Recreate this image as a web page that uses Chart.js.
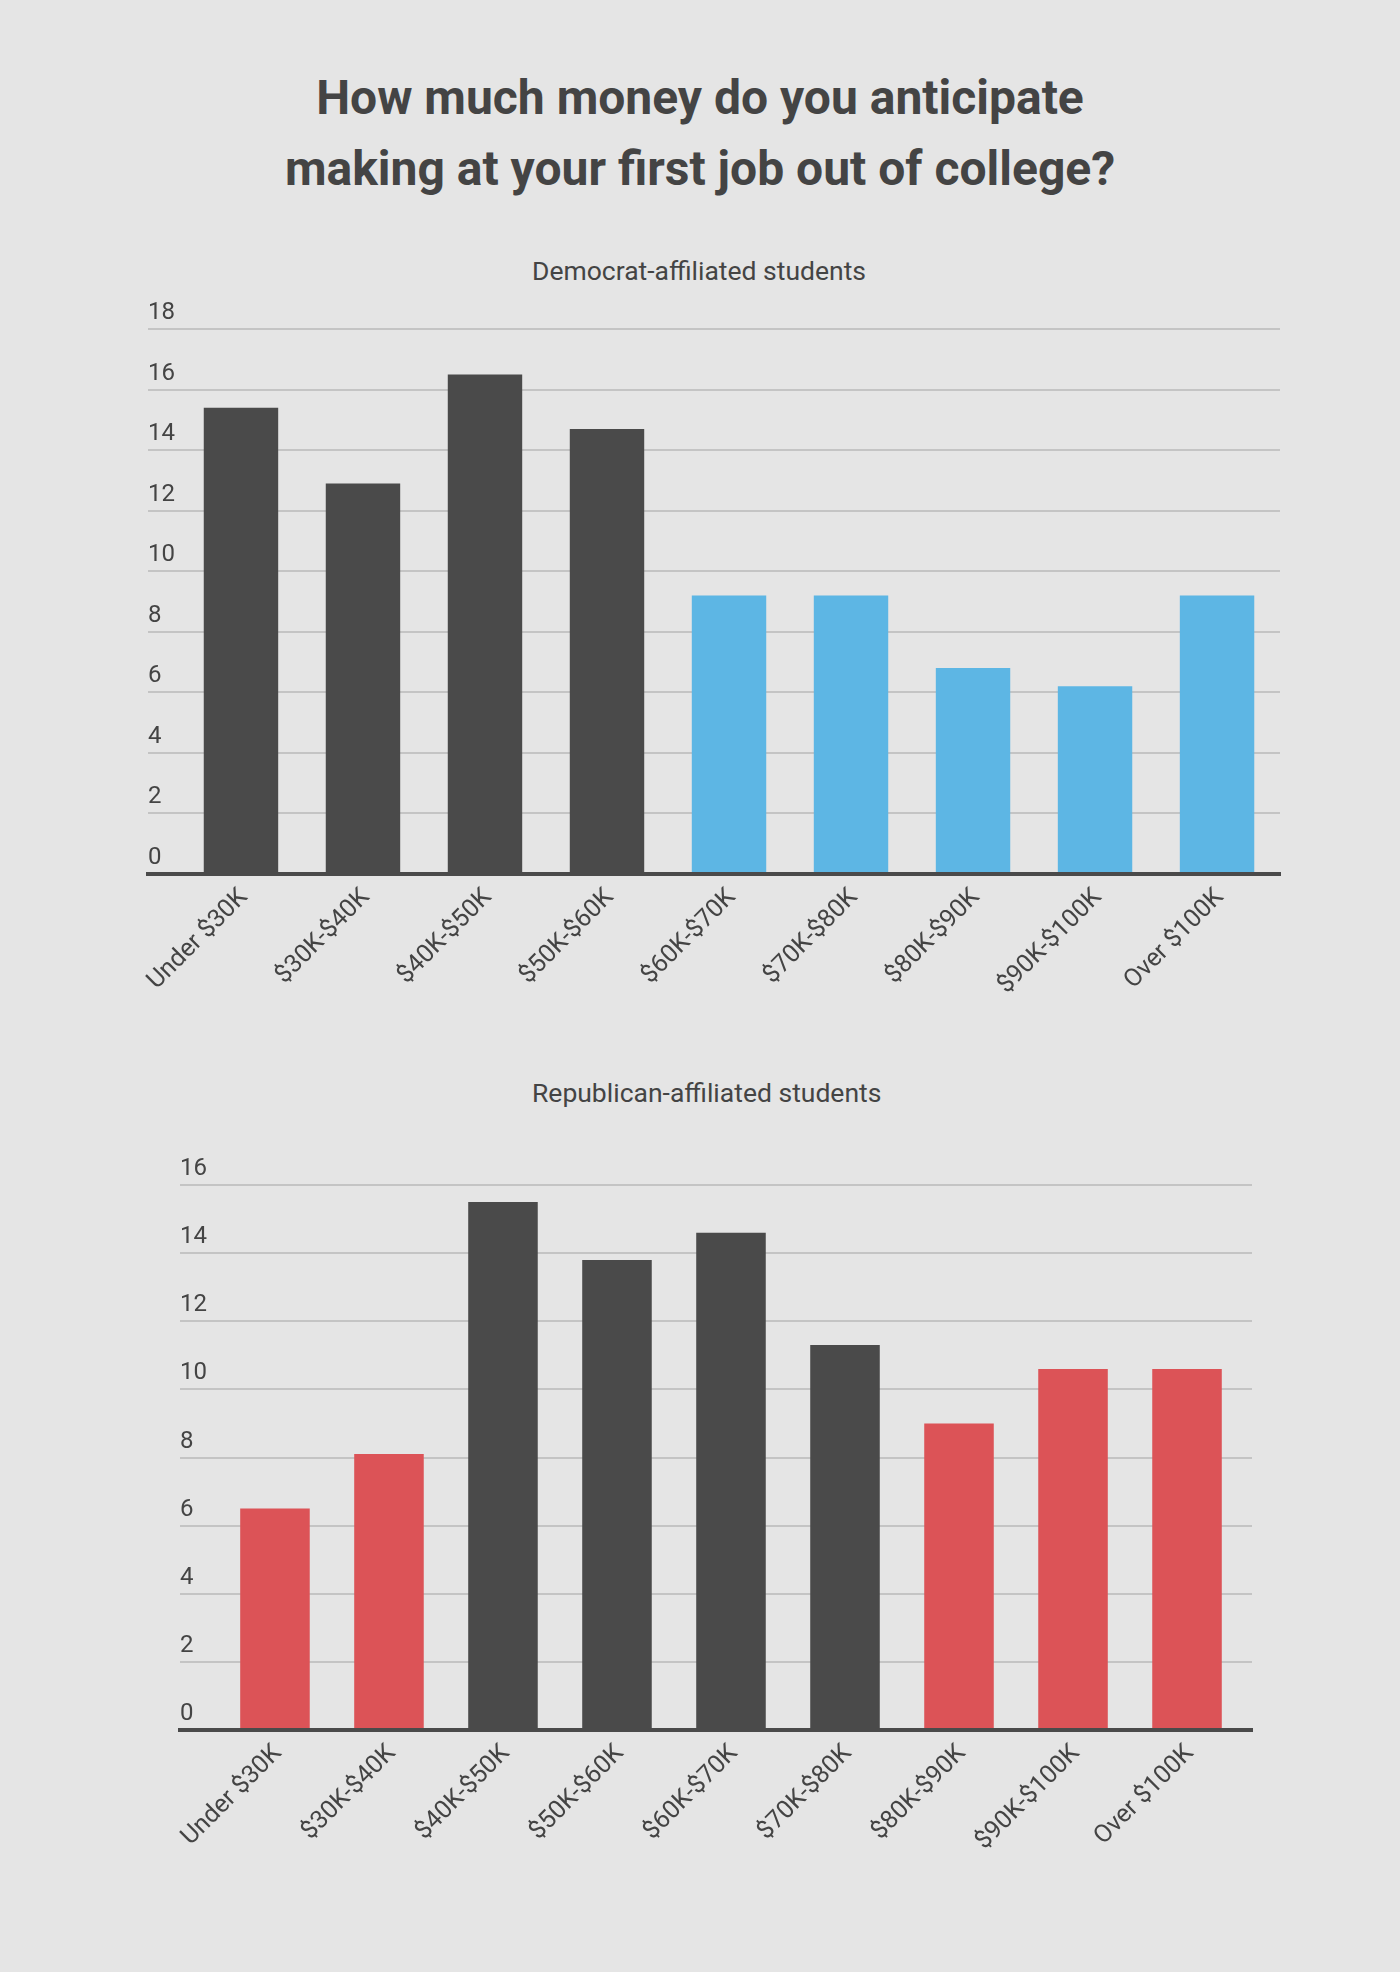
<!DOCTYPE html>
<html>
<head>
<meta charset="utf-8">
<script src="https://cdn.jsdelivr.net/npm/chart.js@4.4.0/dist/chart.umd.min.js"></script>
<style>
  body { margin: 0; background: #e5e5e5; width: 1400px; height: 1972px; position: relative; overflow: hidden; font-family: Roboto, sans-serif; color: #444; }
  .title { position: absolute; top: 62px; left: 0; width: 1400px; text-align: center; font-weight: 700; font-size: 48px; line-height: 71px; }
  .sub { position: absolute; left: 532px; font-size: 26.5px; line-height: 26px; white-space: nowrap; }
  .box { position: absolute; left: 0; width: 1400px; }
</style>
</head>
<body>
<div class="title">How much money do you anticipate<br>making at your first job out of college?</div>
<div class="sub" style="top:258px">Democrat-affiliated students</div>
<div class="box" style="top:280px;height:720px"><canvas id="demChart"></canvas></div>
<div class="sub" style="top:1080px">Republican-affiliated students</div>
<div class="box" style="top:1140px;height:832px"><canvas id="repChart"></canvas></div>
<script>
// categories (salary brackets)
const categories = ['Under $30K', '$30K-$40K', '$40K-$50K', '$50K-$60K', '$60K-$70K',
                    '$70K-$80K', '$80K-$90K', '$90K-$100K', 'Over $100K'];

// % of students per bracket
const demValues = [15.4, 12.9, 16.5, 14.7, 9.2, 9.2, 6.8, 6.2, 9.2];
const repValues = [6.5, 8.1, 15.5, 13.8, 14.6, 11.3, 9.0, 10.6, 10.6];

// y tick labels
const demTicks = [0, 2, 4, 6, 8, 10, 12, 14, 16, 18];
const repTicks = [0, 2, 4, 6, 8, 10, 12, 14, 16];

const DARK = '#4a4a4a';
const TEXT = '#444444';
const GRID = '#c4c4c4';

// the four largest values are shown in dark grey
function barColors(values, accent) {
    const top4 = [...values].sort((a, b) => b - a).slice(0, 4);
    const used = [];
    return values.map(v => {
        const i = top4.indexOf(v);
        if (i >= 0 && !used.includes(i)) { used.push(i); return DARK; }
        return accent;
    });
}

function makeChart(id, values, ticks, accent, box) {
    const ctx = document.getElementById(id).getContext('2d');
    return new Chart(ctx, {
        type: 'bar',
        data: {
            datasets: [{
                data: values.map((v, i) => ({ x: i, y: v })),
                backgroundColor: barColors(values, accent),
                barPercentage: 0.61,
                categoryPercentage: 1.0
            }]
        },
        options: {
            responsive: true,
            maintainAspectRatio: false,
            animation: false,
            layout: { padding: { left: box.left, right: box.right, top: box.top, bottom: 0 } },
            plugins: { legend: { display: false }, tooltip: { enabled: false } },
            scales: {
                x: {
                    type: 'linear',
                    offset: false,
                    min: box.xMin,
                    max: box.xMax,
                    grid: { display: false, offset: false },
                    border: { display: true, color: DARK, width: 4, z: 1 },
                    afterFit: s => { s.height = box.xHeight; },
                    ticks: {
                        stepSize: 1,
                        includeBounds: false,
                        autoSkip: false,
                        maxRotation: 45,
                        minRotation: 45,
                        padding: box.labelPad,
                        labelOffset: 3,
                        color: TEXT,
                        font: { family: 'Roboto', size: 25 },
                        callback: v => (Number.isInteger(v) && categories[v]) ? categories[v] : ''
                    }
                },
                y: {
                    min: ticks[0],
                    max: ticks[ticks.length - 1],
                    grid: { color: GRID, lineWidth: 2, drawTicks: false },
                    border: { display: false },
                    afterFit: s => { s.width = 0; },
                    afterBuildTicks: s => { s.ticks = ticks.map(t => ({ value: t })); },
                    ticks: {
                        mirror: true,
                        crossAlign: 'near',
                        padding: 0,
                        labelOffset: -16,
                        color: TEXT,
                        font: { family: 'Roboto', size: 24 }
                    }
                }
            }
        }
    });
}

makeChart('demChart', demValues, demTicks, '#5db6e4',
    { left: 148, right: 120, top: 49, xHeight: 126, xMin: -0.762, xMax: 8.516, labelPad: 1 });
makeChart('repChart', repValues, repTicks, '#dc5357',
    { left: 180, right: 148, top: 45, xHeight: 242, xMin: -0.833, xMax: 8.570, labelPad: 1 });
</script>
</body>
</html>
